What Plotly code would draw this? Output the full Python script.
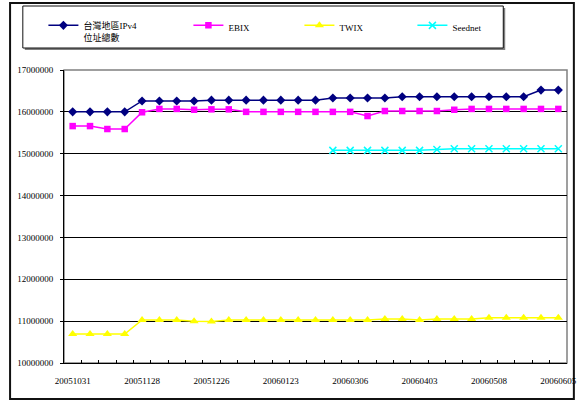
import plotly.graph_objects as go

W, H = 588, 401
ML, MR, MT, MB = 64, 11, 70, 38

dates = ["20051031", "20051107", "20051114", "20051121", "20051128", "20051205",
         "20051212", "20051219", "20051226", "20060102", "20060109", "20060116",
         "20060123", "20060206", "20060213", "20060220", "20060306", "20060313",
         "20060320", "20060327", "20060403", "20060417", "20060424", "20060501",
         "20060508", "20060515", "20060522", "20060529", "20060605"]

ipv4_total = [16000000, 16000000, 16000000, 16000000, 16260000, 16260000, 16260000,
              16260000, 16280000, 16280000, 16280000, 16280000, 16280000, 16280000,
              16280000, 16330000, 16330000, 16330000, 16330000, 16360000, 16360000,
              16360000, 16360000, 16360000, 16360000, 16360000, 16360000, 16520000,
              16520000]

ebix = [15660000, 15660000, 15590000, 15590000, 15990000, 16070000, 16070000,
        16050000, 16060000, 16060000, 16000000, 16000000, 16000000, 16000000,
        16000000, 16000000, 16000000, 15900000, 16020000, 16020000, 16020000,
        16020000, 16050000, 16070000, 16070000, 16070000, 16070000, 16070000,
        16070000]

twix = [10690000, 10690000, 10690000, 10690000, 11030000, 11030000, 11030000,
        11000000, 10990000, 11030000, 11030000, 11030000, 11030000, 11030000,
        11030000, 11030000, 11030000, 11030000, 11050000, 11050000, 11030000,
        11050000, 11050000, 11050000, 11080000, 11080000, 11080000, 11080000,
        11080000]

seednet = [None, None, None, None, None, None, None, None, None, None, None, None,
           None, None, None, 15080000, 15080000, 15080000, 15080000, 15080000,
           15080000, 15100000, 15120000, 15120000, 15120000, 15120000, 15120000,
           15120000, 15120000]

series_names = ["台灣地區IPv4<br>位址總數", "EBIX", "TWIX", "Seednet"]

tick_labels = [d if i % 4 == 0 else "" for i, d in enumerate(dates)]

FONT = "Liberation Serif, Times New Roman, Noto Sans CJK TC, serif"

fig = go.Figure()
fig.add_trace(go.Scatter(
    x=dates, y=ipv4_total, name=series_names[0], mode="lines+markers",
    line=dict(color="#000080", width=1.5),
    marker=dict(symbol="diamond", size=7, color="#000080"),
    legendwidth=100))
fig.add_trace(go.Scatter(
    x=dates, y=ebix, name=series_names[1], mode="lines+markers",
    line=dict(color="#FF00FF", width=1.5),
    marker=dict(symbol="square", size=6.5, color="#FF00FF"),
    legendwidth=66))
fig.add_trace(go.Scatter(
    x=dates, y=twix, name=series_names[2], mode="lines+markers",
    line=dict(color="#FFFF00", width=1.5),
    marker=dict(symbol="triangle-up", size=8, color="#FFFF00"),
    legendwidth=68))
fig.add_trace(go.Scatter(
    x=dates, y=seednet, name=series_names[3], mode="lines+markers",
    line=dict(color="#00FFFF", width=1.5),
    marker=dict(symbol="x-thin", size=7, color="#00FFFF",
                line=dict(color="#00FFFF", width=1.5)),
    legendwidth=50))

PW = W - ML - MR
PH = H - MT - MB


def px(x):
    return (x - ML) / PW


def py(y):
    return (H - MB - y) / PH


shapes = [
    # outer chart border
    dict(type="rect", xref="paper", yref="paper", x0=px(9), x1=px(584),
         y0=py(399), y1=py(3), line=dict(color="#111111", width=2), layer="below"),
    # legend shadow
    dict(type="rect", xref="paper", yref="paper", x0=px(24), x1=px(514),
         y0=py(50), y1=py(8), line=dict(width=0), fillcolor="#808080", layer="below"),
    # legend box
    dict(type="rect", xref="paper", yref="paper", x0=px(22), x1=px(512),
         y0=py(48), y1=py(6), line=dict(color="#111111", width=1),
         fillcolor="white", layer="below"),
    # plot-area border (gray)
    dict(type="rect", xref="paper", yref="paper", x0=0, x1=1, y0=0, y1=1,
         line=dict(color="#808080", width=1.5), layer="below"),
]

fig.update_layout(
    width=W, height=H,
    margin=dict(l=ML, r=MR, t=MT, b=MB),
    paper_bgcolor="white", plot_bgcolor="white",
    font=dict(family=FONT, size=9, color="black"),
    shapes=shapes,
    showlegend=True,
    legend=dict(orientation="h", x=px(43), xanchor="left", y=py(13), yanchor="top",
                valign="top", bgcolor="rgba(0,0,0,0)", borderwidth=0,
                font=dict(family=FONT, size=9, color="black"),
                itemwidth=30, traceorder="normal"),
    xaxis=dict(type="category", categoryorder="array", categoryarray=dates,
               range=[-0.5, len(dates) - 0.5],
               tickmode="array", tickvals=dates, ticktext=tick_labels,
               tickson="boundaries", ticks="inside", ticklen=3, tickcolor="black",
               showline=True, linecolor="black", linewidth=1,
               showgrid=False, zeroline=False, ticklabelstandoff=9,
               tickangle=0, tickfont=dict(size=9)),
    yaxis=dict(range=[10000000, 17000000], dtick=1000000, tick0=10000000,
               tickformat="d", ticks="outside", ticklen=3, tickcolor="black",
               showline=True, linecolor="black", linewidth=1,
               showgrid=True, gridcolor="black", gridwidth=1, zeroline=False,
               ticklabelstandoff=5, tickfont=dict(size=9)),
)

fig.write_html("out.html")
